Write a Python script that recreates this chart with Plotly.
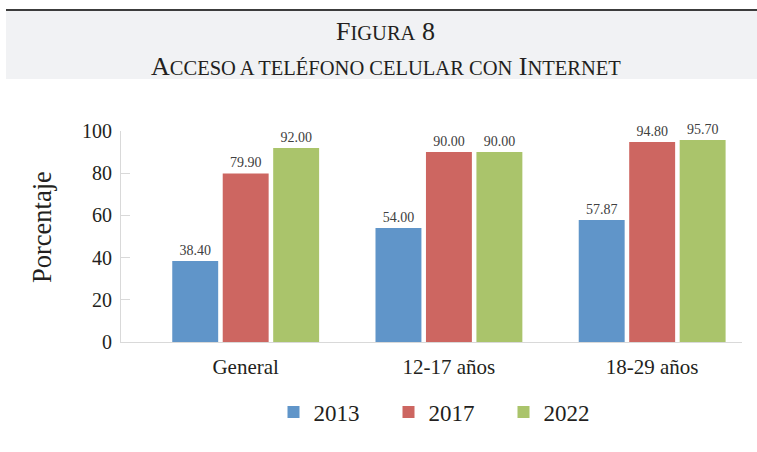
import plotly.graph_objects as go

categories = ["General", "12-17 años", "18-29 años"]
years = ["2013", "2017", "2022"]
v2013 = [38.40, 54.00, 57.87]
v2017 = [79.90, 90.00, 94.80]
v2022 = [92.00, 90.00, 95.70]
series = [v2013, v2017, v2022]
colors = ["#6095c9", "#cd6661", "#aac46b"]

W, H = 757, 452
SERIF = "Liberation Serif, Times New Roman, serif"
TXT = "#231f20"

fig = go.Figure()
for name, vals, col in zip(years, series, colors):
    fig.add_trace(go.Bar(
        name=name, x=categories, y=vals, marker_color=col, marker_line_width=0,
        text=[f"{v:.2f}" for v in vals], textposition="outside",
        textfont=dict(family=SERIF, size=14, color="#404040"),
        cliponaxis=False,
    ))

def px_x(p):
    return p / W

def px_y(p):
    return 1 - p / H

def sc(s):
    return f"<span style='font-size:20.5px'>{s}</span>"

title1 = "F" + sc("IGURA") + " 8"
title2 = "A" + sc("CCESO A TELÉFONO CELULAR CON") + " I" + sc("NTERNET")

fig.update_layout(
    width=W, height=H,
    margin=dict(l=0, r=0, t=0, b=0, autoexpand=False),
    paper_bgcolor="white", plot_bgcolor="white",
    barmode="group", bargap=0.255, bargroupgap=0.09,
    font=dict(family=SERIF, color=TXT),
    xaxis=dict(
        domain=[px_x(121), px_x(742)],
        range=[-0.6135, 2.442], automargin=False,
        showline=True, linecolor="#d9d9d9", linewidth=1,
        ticks="", tickfont=dict(size=21, family=SERIF, color=TXT),
        ticklabelstandoff=6,
    ),
    yaxis=dict(
        domain=[px_y(342), px_y(131)],
        range=[0, 100], tickvals=[0, 20, 40, 60, 80, 100], automargin=False,
        showgrid=False, zeroline=False,
        showline=True, linecolor="#d9d9d9", linewidth=1,
        ticks="inside", ticklen=9, tickcolor="#d9d9d9",
        tickfont=dict(size=20, family=SERIF, color=TXT),
        ticklabelstandoff=4,
    ),
    showlegend=True,
    legend=dict(
        orientation="h", x=px_x(446), xanchor="center", y=px_y(412), yanchor="middle",
        font=dict(size=23, family=SERIF, color=TXT),
        entrywidth=70, entrywidthmode="pixels",
        traceorder="normal",
    ),
    shapes=[
        dict(type="rect", xref="paper", yref="paper", x0=px_x(6), x1=1,
             y0=px_y(79), y1=px_y(11), fillcolor="#f1f2f4", line_width=0, layer="below"),
        dict(type="line", xref="paper", yref="paper", x0=px_x(6), x1=1,
             y0=px_y(10), y1=px_y(10), line=dict(color="#3c3c3c", width=2)),
    ],
    annotations=[
        dict(text=title1, xref="paper", yref="paper", x=px_x(385), y=px_y(31),
             xanchor="center", yanchor="middle", showarrow=False,
             font=dict(size=26, family=SERIF, color=TXT)),
        dict(text=title2, xref="paper", yref="paper",
             x=px_x(386), y=px_y(66), xanchor="center", yanchor="middle", showarrow=False,
             font=dict(size=26, family=SERIF, color=TXT)),
        dict(text="Porcentaje", xref="paper", yref="paper", x=px_x(42), y=px_y(227),
             xanchor="center", yanchor="middle", showarrow=False, textangle=-90,
             font=dict(size=26.5, family=SERIF, color=TXT)),
    ],
)

fig.write_html(
    "out.html",
    config={"displayModeBar": False},
    post_script="document.body.style.margin='0';document.body.style.overflow='hidden';",
)
